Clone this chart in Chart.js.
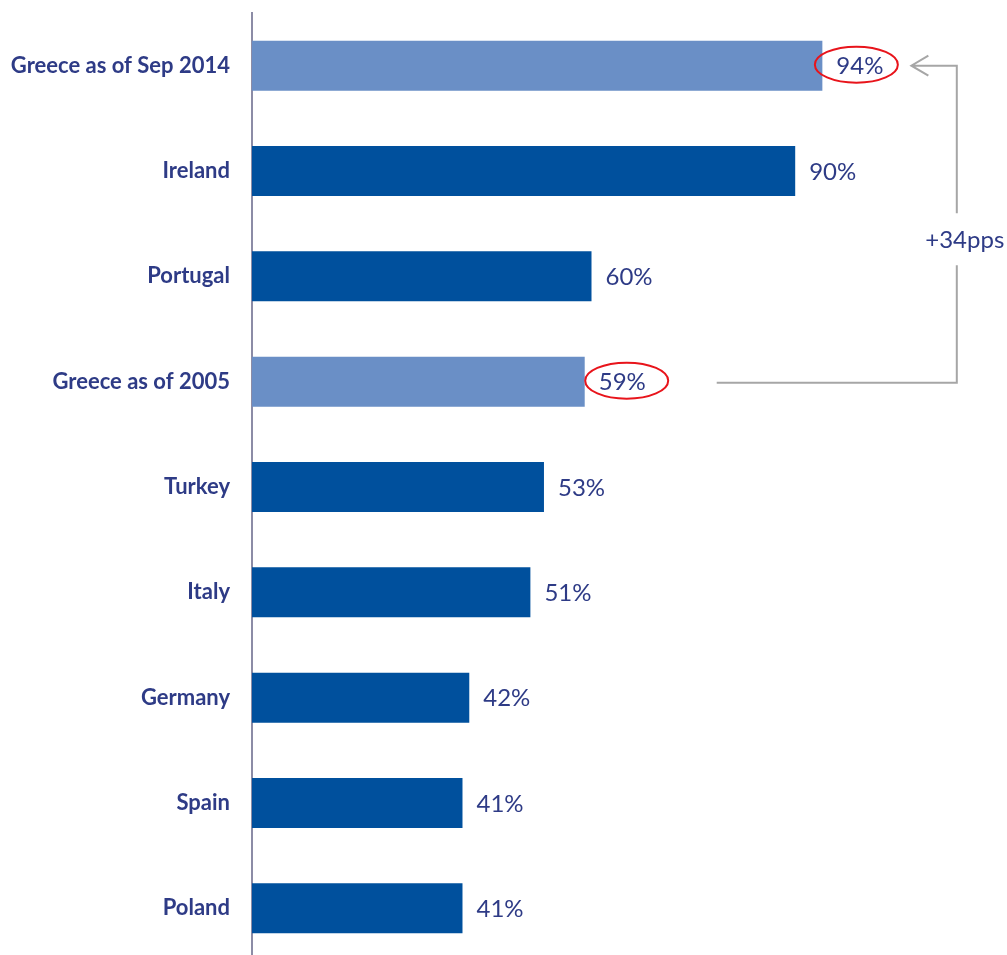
<!DOCTYPE html>
<html>
<head>
<meta charset="utf-8">
<script src="https://cdn.jsdelivr.net/npm/chart.js@4"></script>
<style>
  html, body { margin: 0; padding: 0; background: #fff; overflow: hidden; }
  .wrap { width: 1007px; height: 955px; overflow: hidden; position: relative; }
  .wrap canvas { position: absolute; left: 0; top: 0; }
</style>
</head>
<body>
<div class="wrap">
  <canvas id="chart" width="1007" height="962"></canvas>
</div>
<script>
const categories = ['Greece as of Sep 2014', 'Ireland', 'Portugal', 'Greece as of 2005', 'Turkey', 'Italy', 'Germany', 'Spain', 'Poland'];
const values = [94, 90, 60, 59, 53, 51, 42, 41, 41];
const highlighted = [true, false, false, true, false, false, false, false, false];
const changeLabel = '+34pps';

const DARK = '#00509D';
const LIGHT = '#6A8FC6';
const NAVY = '#2E3B86';

// value labels at bar end, with red ellipse on the two Greece bars
const valueLabels = {
  id: 'valueLabels',
  afterDatasetsDraw(chart) {
    const ctx = chart.ctx;
    const meta = chart.getDatasetMeta(0);
    ctx.save();
    ctx.font = '24px Lato';
    ctx.fillStyle = NAVY;
    ctx.textBaseline = 'middle';
    meta.data.forEach((bar, i) => {
      ctx.fillText(values[i] + '%', bar.x + 14, bar.y + 1);
      if (highlighted[i]) {
        // the top ellipse overlaps the bar end a little
        const shift = i === 0 ? 34 : 42;
        ctx.beginPath();
        ctx.ellipse(bar.x + shift, bar.y - 1, 41.5, 18, 0, 0, Math.PI * 2);
        ctx.strokeStyle = '#E8141B';
        ctx.lineWidth = 2;
        ctx.stroke();
      }
    });
    ctx.restore();
  }
};

// grey bracket arrow from the 2005 bar up to the Sep 2014 bar
const bracket = {
  id: 'bracket',
  afterDraw(chart) {
    const ctx = chart.ctx;
    const meta = chart.getDatasetMeta(0);
    const top = meta.data[0];
    const low = meta.data[3];
    const vx = chart.scales.x.getPixelForValue(113.8);
    const startX = low.x + 132;
    const tipX = top.x + 89;
    const yTop = top.y;
    const yLow = low.y + 1;
    const midY = (yTop + yLow) / 2 + 15;
    ctx.save();
    ctx.strokeStyle = '#A6A6A6';
    ctx.lineWidth = 2;
    ctx.beginPath();
    ctx.moveTo(startX, yLow);
    ctx.lineTo(vx, yLow);
    ctx.lineTo(vx, midY + 26);
    ctx.moveTo(vx, midY - 26);
    ctx.lineTo(vx, yTop);
    ctx.lineTo(tipX, yTop);
    ctx.moveTo(tipX + 17, yTop - 10);
    ctx.lineTo(tipX, yTop);
    ctx.lineTo(tipX + 17, yTop + 10);
    ctx.stroke();
    ctx.font = '24px Lato';
    ctx.fillStyle = NAVY;
    ctx.textAlign = 'center';
    ctx.textBaseline = 'middle';
    ctx.fillText(changeLabel, vx + 8, midY + 1);
    ctx.restore();
  }
};

new Chart(document.getElementById('chart'), {
  type: 'bar',
  data: {
    labels: categories,
    datasets: [{
      data: values,
      backgroundColor: highlighted.map(h => h ? LIGHT : DARK),
      borderWidth: 0,
      barPercentage: 1,
      categoryPercentage: 0.475
    }]
  },
  options: {
    indexAxis: 'y',
    responsive: false,
    animation: false,
    layout: { padding: { top: 13, bottom: 1, left: 0, right: 76 } },
    plugins: { legend: { display: false }, tooltip: { enabled: false } },
    scales: {
      x: { display: false, min: 10, max: 110 },
      y: {
        afterFit(scale) {
          scale.width = 252;
          scale.paddingTop = 0;
          scale.paddingBottom = 0;
        },
        grid: { display: false, drawTicks: false },
        border: { display: true, color: '#8C8CA6', width: 2 },
        ticks: {
          padding: 22,
          color: NAVY,
          font: { family: 'Lato', size: 22, weight: 'bold' }
        }
      }
    }
  },
  plugins: [valueLabels, bracket]
});
</script>
</body>
</html>
